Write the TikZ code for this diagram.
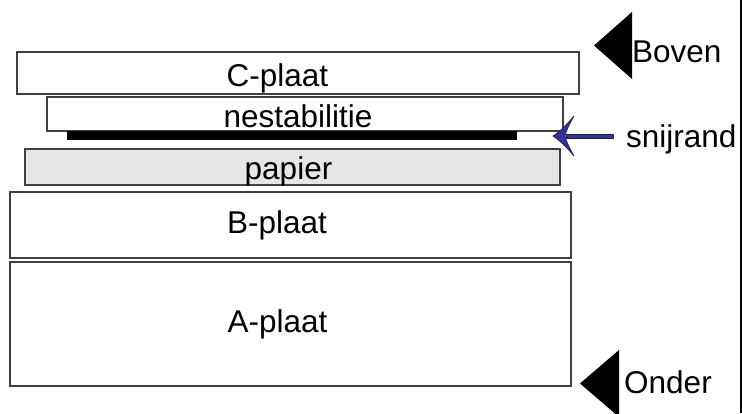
\documentclass[tikz,border=0pt]{standalone}
\usepackage{fontspec}
\setmainfont{Liberation Sans}
\usetikzlibrary{calc}
\definecolor{arrowblue}{HTML}{333399}
\definecolor{papergray}{HTML}{E6E6E6}
\begin{document}
\begin{tikzpicture}[x=1pt,y=-1pt,
  layer/.style={draw=black!75, line width=1.2pt},
  lbl/.style={anchor=base, inner sep=0pt, font=\fontsize{31.5}{37}\selectfont},
  sidelbl/.style={anchor=base west, inner sep=0pt, font=\fontsize{31.5}{37}\selectfont},
  marker/.style={fill=black, draw=none},
  bluearrow/.style={fill=arrowblue, draw=black!45!arrowblue, line width=0.7pt, line join=round}]
\useasboundingbox (0,0) rectangle (742,413);
\fill[white] (0,0) rectangle (742,413);
% layers
\draw[layer] (17,52) rectangle (579,94);
\node[lbl] (tc) at (277.5,86) {C-plaat};
\draw[layer] (47,97) rectangle (563,131);
\node[lbl] (tn) at (298,127) {nestabilitie};
\fill[black] (67,131) rectangle (517,140);
\draw[layer, fill=papergray] (25,149) rectangle (560,185);
\node[lbl] (tp) at (288.5,179) {papier};
\draw[layer] (10,192) rectangle (571,258);
\node[lbl] (tb) at (277,233) {B-plaat};
\draw[layer] (10,262) rectangle (571,386);
\node[lbl] (ta) at (277.5,332) {A-plaat};
% right border line
\draw[black, line width=1.2pt] (741,0) -- (741,413);
% markers
\fill[marker] (632,12) -- (632,79) -- (594,45.5) -- cycle;
\node[sidelbl] (boven) at (632,62) {Boven};
\fill[marker] (619,350) -- (619,417) -- (580,383.5) -- cycle;
\node[sidelbl] (onder) at (624,393) {Onder};
% snijrand
\node[sidelbl] (snij) at (626,147) {snijrand};
\coordinate (tail) at (613,136);
\coordinate (tip) at (553,136);
\draw[bluearrow] ($(tail)+(0,-2)$) -- (566,134) -- (566,138) -- ($(tail)+(0,2)$) -- cycle;
\draw[bluearrow] (tip) .. controls (562,130) and (568,123) .. (574,116)
  .. controls (569,125) and (566,131) .. (565,136)
  .. controls (566,141) and (569,147) .. (574,156)
  .. controls (568,149) and (562,142) .. (tip) -- cycle;
\end{tikzpicture}
\end{document}
